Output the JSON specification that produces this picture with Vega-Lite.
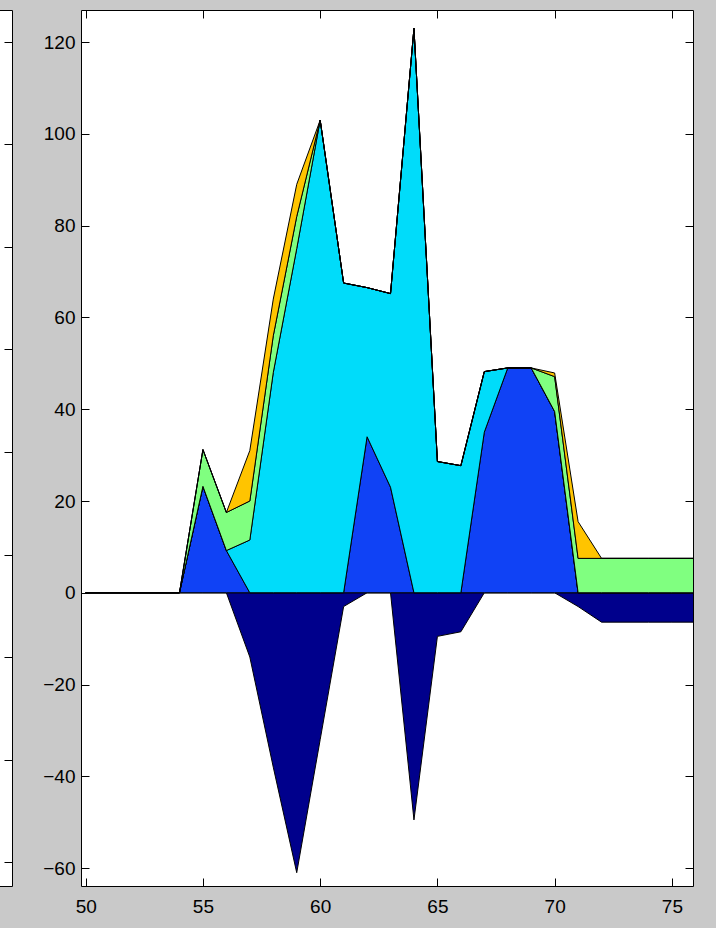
{
  "$schema": "https://vega.github.io/schema/vega-lite/v6.json",
  "background": "#c9c9c9",
  "autosize": {"type": "none"},
  "padding": {"left": -20, "top": 10, "right": 736, "bottom": 918},
  "bounds": "flush",
  "spacing": 69,
  "config": {
    "view": {"stroke": "black", "strokeWidth": 1, "fill": "white"},
    "axis": {
      "labelFont": "Liberation Sans",
      "labelFontSize": 19,
      "labelColor": "black",
      "tickColor": "black",
      "tickWidth": 1,
      "domain": false,
      "grid": false
    }
  },
  "hconcat": [
    {
      "width": 32,
      "height": 876,
      "data": {"values": [{"a": 0}]},
      "mark": {"type": "point", "opacity": 0},
      "encoding": {
        "x": {"field": "a", "type": "quantitative", "scale": {"domain": [0, 1]}, "axis": null},
        "y": {
          "field": "a",
          "type": "quantitative",
          "scale": {"domain": [-0.234, 8.312], "nice": false, "zero": false},
          "axis": {"orient": "right", "values": [0, 1, 2, 3, 4, 5, 6, 7, 8], "labels": false, "tickSize": -8, "title": null}
        }
      }
    },
    {
      "width": 612,
      "height": 876,
      "layer": [
        {
          "mark": {"type": "rule", "color": "black", "strokeWidth": 1},
          "encoding": {
            "x": {
              "datum": 49.8,
              "type": "quantitative",
              "scale": {"domain": [49.8, 75.9], "nice": false, "zero": false},
              "axis": {"orient": "top", "values": [50, 55, 60, 65, 70, 75], "labels": false, "tickSize": -8, "title": null}
            },
            "x2": {"datum": 75.9},
            "y": {
              "datum": 0,
              "type": "quantitative",
              "scale": {"domain": [-63.9, 127], "nice": false, "zero": false},
              "axis": {"orient": "right", "values": [-60, -40, -20, 0, 20, 40, 60, 80, 100, 120], "labels": false, "tickSize": -8, "title": null}
            }
          }
        },
        {
          "data": {
            "values": [
              {"x": 50, "s1": 0, "s2": 0, "s3": 0, "s4": 0, "s5": 0},
              {"x": 51, "s1": 0, "s2": 0, "s3": 0, "s4": 0, "s5": 0},
              {"x": 52, "s1": 0, "s2": 0, "s3": 0, "s4": 0, "s5": 0},
              {"x": 53, "s1": 0, "s2": 0, "s3": 0, "s4": 0, "s5": 0},
              {"x": 54, "s1": 0, "s2": 0, "s3": 0, "s4": 0, "s5": 0},
              {"x": 55, "s1": 0, "s2": 23.2, "s3": 0, "s4": 8, "s5": 0},
              {"x": 56, "s1": 0, "s2": 9.2, "s3": 0, "s4": 8.3, "s5": 0},
              {"x": 57, "s1": -14, "s2": 0, "s3": 11.5, "s4": 8.5, "s5": 11},
              {"x": 58, "s1": -38, "s2": 0, "s3": 48, "s4": 8, "s5": 8},
              {"x": 59, "s1": -61, "s2": 0, "s3": 75, "s4": 7, "s5": 7},
              {"x": 60, "s1": -32, "s2": 0, "s3": 103, "s4": 0, "s5": 0},
              {"x": 61, "s1": -3, "s2": 0, "s3": 67.5, "s4": 0, "s5": 0},
              {"x": 62, "s1": 0, "s2": 34, "s3": 32.5, "s4": 0, "s5": 0},
              {"x": 63, "s1": 0, "s2": 23, "s3": 42.2, "s4": 0, "s5": 0},
              {"x": 64, "s1": -49.5, "s2": 0, "s3": 123, "s4": 0, "s5": 0},
              {"x": 65, "s1": -9.5, "s2": 0, "s3": 28.6, "s4": 0, "s5": 0},
              {"x": 66, "s1": -8.5, "s2": 0, "s3": 27.7, "s4": 0, "s5": 0},
              {"x": 67, "s1": 0, "s2": 35, "s3": 13.2, "s4": 0, "s5": 0},
              {"x": 68, "s1": 0, "s2": 49, "s3": 0, "s4": 0, "s5": 0},
              {"x": 69, "s1": 0, "s2": 49, "s3": 0, "s4": 0, "s5": 0},
              {"x": 70, "s1": 0, "s2": 39.5, "s3": 0, "s4": 7.6, "s5": 0.8},
              {"x": 71, "s1": -3, "s2": 0, "s3": 0, "s4": 7.5, "s5": 8},
              {"x": 72, "s1": -6.4, "s2": 0, "s3": 0, "s4": 7.5, "s5": 0},
              {"x": 73, "s1": -6.4, "s2": 0, "s3": 0, "s4": 7.5, "s5": 0},
              {"x": 74, "s1": -6.4, "s2": 0, "s3": 0, "s4": 7.5, "s5": 0},
              {"x": 75, "s1": -6.4, "s2": 0, "s3": 0, "s4": 7.5, "s5": 0},
              {"x": 76, "s1": -6.4, "s2": 0, "s3": 0, "s4": 7.5, "s5": 0}
            ]
          },
          "transform": [{"fold": ["s1", "s2", "s3", "s4", "s5"], "as": ["s", "v"]}],
          "mark": {"type": "area", "stroke": "black", "strokeWidth": 1, "interpolate": "linear", "clip": true},
          "encoding": {
            "x": {
              "field": "x",
              "type": "quantitative",
              "scale": {"domain": [49.8, 75.9], "nice": false, "zero": false},
              "axis": {"orient": "bottom", "values": [50, 55, 60, 65, 70, 75], "tickSize": -8, "labelPadding": 19, "labelFont": "Liberation Sans", "labelFontSize": 19, "title": null}
            },
            "y": {
              "field": "v",
              "type": "quantitative",
              "stack": "zero",
              "scale": {"domain": [-63.9, 127], "nice": false, "zero": false},
              "axis": {"orient": "left", "values": [-60, -40, -20, 0, 20, 40, 60, 80, 100, 120], "tickSize": -8, "labelPadding": 14, "labelFont": "Liberation Sans", "labelFontSize": 19, "title": null}
            },
            "color": {
              "field": "s",
              "type": "nominal",
              "scale": {"domain": ["s1", "s2", "s3", "s4", "s5"], "range": ["#00008c", "#1042f5", "#00dcfa", "#80ff80", "#ffc400"]},
              "legend": null
            },
            "order": {"field": "s", "type": "nominal"}
          }
        }
      ],
      "resolve": {"axis": {"x": "independent", "y": "independent"}}
    }
  ]
}
